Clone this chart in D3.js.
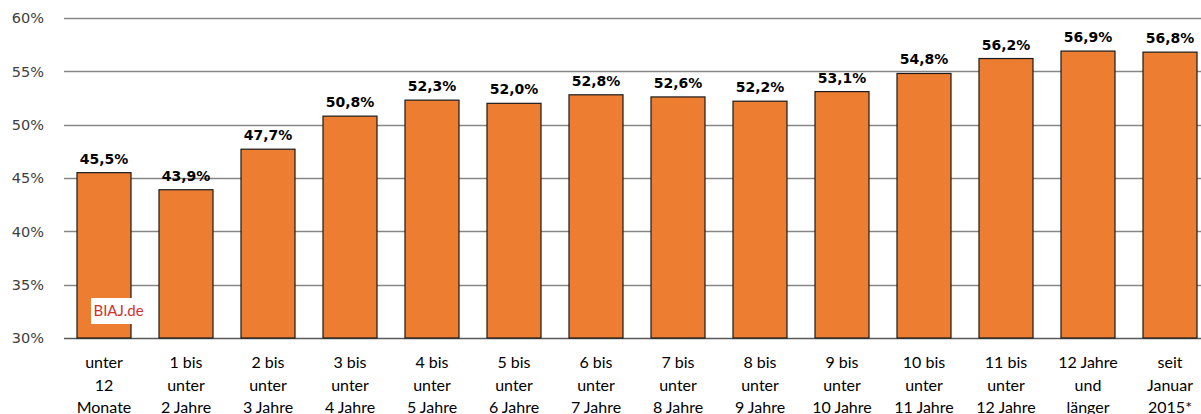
<!DOCTYPE html>
<html>
<head>
<meta charset="utf-8">
<script src="https://cdn.jsdelivr.net/npm/d3@7"></script>
<style>
  body { margin: 0; background: #fff; }
  svg { display: block; }
</style>
</head>
<body>
<svg width="1201" height="414"></svg>
<script>
var categories = [
  ["unter", "12", "Monate"],
  ["1 bis", "unter", "2 Jahre"],
  ["2 bis", "unter", "3 Jahre"],
  ["3 bis", "unter", "4 Jahre"],
  ["4 bis", "unter", "5 Jahre"],
  ["5 bis", "unter", "6 Jahre"],
  ["6 bis", "unter", "7 Jahre"],
  ["7 bis", "unter", "8 Jahre"],
  ["8 bis", "unter", "9 Jahre"],
  ["9 bis", "unter", "10 Jahre"],
  ["10 bis", "unter", "11 Jahre"],
  ["11 bis", "unter", "12 Jahre"],
  ["12 Jahre", "und", "länger"],
  ["seit", "Januar", "2015*"]
];
var values = [45.5, 43.9, 47.7, 50.8, 52.3, 52.0, 52.8, 52.6, 52.2, 53.1, 54.8, 56.2, 56.9, 56.8];
var yTicks = [30, 35, 40, 45, 50, 55, 60];

var svg = d3.select("svg"),
  left = 63,
  step = 82,
  right = left + step * values.length;

var x = d3.scaleBand()
  .domain(d3.range(values.length))
  .range([left, right])
  .paddingInner(28 / 82)
  .paddingOuter(14 / 82);

var y = d3.scaleLinear()
  .domain([30, 60])
  .range([338, 18]);

var fmt = function (v) { return v.toFixed(1).replace(".", ",") + "%"; };

// grid
svg.append("g")
  .selectAll("line")
  .data(yTicks)
  .enter().append("line")
  .attr("x1", 64)
  .attr("x2", 1201)
  .attr("y1", function (d) { return Math.round(y(d)) + 0.5; })
  .attr("y2", function (d) { return Math.round(y(d)) + 0.5; })
  .attr("stroke", function (d) { return d === 30 ? "#595959" : "#868686"; })
  .attr("stroke-width", 1.3);

// y labels
svg.append("g")
  .selectAll("text")
  .data(yTicks)
  .enter().append("text")
  .attr("x", 44)
  .attr("y", function (d) { return y(d); })
  .attr("dy", "0.36em")
  .attr("text-anchor", "end")
  .attr("font-family", "DejaVu Sans, Verdana, sans-serif")
  .attr("font-size", 14.5)
  .attr("fill", "#404040")
  .text(function (d) { return d + "%"; });

// bars
svg.append("g")
  .selectAll("rect")
  .data(values)
  .enter().append("rect")
  .attr("x", function (d, i) { return x(i); })
  .attr("y", function (d) { return y(d); })
  .attr("width", x.bandwidth())
  .attr("height", function (d) { return y(30) - y(d); })
  .attr("fill", "#ED7D31")
  .attr("stroke", "#1a1a1a")
  .attr("stroke-width", 1.2);

// value labels
svg.append("g")
  .selectAll("text")
  .data(values)
  .enter().append("text")
  .attr("x", function (d, i) { return x(i) + x.bandwidth() / 2; })
  .attr("y", function (d) { return y(d) - 9; })
  .attr("text-anchor", "middle")
  .attr("font-family", "DejaVu Sans, Verdana, sans-serif")
  .attr("font-weight", "bold")
  .attr("font-size", 14)
  .attr("fill", "#000")
  .text(fmt);

// x labels
var xl = svg.append("g")
  .selectAll("text")
  .data(categories)
  .enter().append("text")
  .attr("text-anchor", "middle")
  .attr("font-family", "Lato, Carlito, sans-serif")
  .attr("font-size", 16)
  .attr("fill", "#000");

xl.selectAll("tspan")
  .data(function (d, i) { return d.map(function (t) { return { t: t, i: i }; }); })
  .enter().append("tspan")
  .attr("x", function (d) { return x(d.i) + x.bandwidth() / 2; })
  .attr("y", function (d, j) { return 368 + j * 22.5; })
  .text(function (d) { return d.t; });

// watermark
var wm = svg.append("g").attr("transform", "translate(91,298)");
wm.append("rect")
  .attr("width", 55)
  .attr("height", 26)
  .attr("fill", "#fff");
wm.append("text")
  .attr("x", 27.5)
  .attr("y", 18)
  .attr("text-anchor", "middle")
  .attr("font-family", "Lato, sans-serif")
  .attr("font-size", 15)
  .attr("fill", "#d0312d")
  .text("BIAJ.de");
</script>
</body>
</html>
